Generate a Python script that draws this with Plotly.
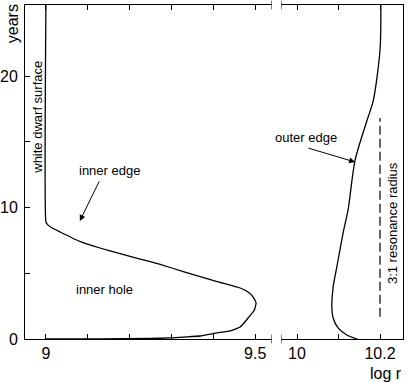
import plotly.graph_objects as go

# inner edge of the disc (left panel): log r against time in years
inner_logr = [9.0, 9.0, 9.004, 9.012, 9.034, 9.081, 9.129, 9.177, 9.225, 9.273, 9.328,
              9.409, 9.464, 9.483, 9.495, 9.502, 9.498, 9.483, 9.464, 9.440,
              9.409, 9.368, 9.328, 9.297, 9.249, 9.129, 9.0]
inner_years = [25.4, 8.90, 8.70, 8.50, 8.14, 7.42, 6.92, 6.50, 6.08, 5.67, 5.13,
               4.37, 3.88, 3.57, 3.19, 2.74, 2.21, 1.60, 0.91, 0.61,
               0.46, 0.23, 0.15, 0.08, 0.04, 0.01, 0.0]

# outer edge of the disc (right panel)
outer_logr = [10.202, 10.200, 10.184, 10.169, 10.140, 10.123, 10.111, 10.096,
              10.087, 10.084, 10.087, 10.099, 10.120, 10.145]
outer_years = [25.4, 21.98, 18.17, 16.65, 13.61, 9.81, 8.06, 5.48,
               3.95, 2.43, 1.60, 0.84, 0.30, 0.0]

# 3:1 resonance radius
res_logr = [10.2, 10.2]
res_years = [1.7, 16.8]

left_ticks = [9.0, 9.1, 9.2, 9.3, 9.4, 9.5]
left_labels = ["9", "", "", "", "", "9.5"]
right_ticks = [10.0, 10.1, 10.2]
right_labels = ["10", "", "10.2"]
year_ticks = [0, 5, 10, 15, 20]
year_labels = ["0", "", "10", "", "20"]

left_range = [8.95, 9.54]
right_range = [9.9614, 10.2554]

fig = go.Figure()

fig.add_trace(go.Scatter(x=inner_logr, y=inner_years, mode="lines",
                         line=dict(color="black", width=1.3, shape="spline", smoothing=0.4),
                         xaxis="x", yaxis="y"))
fig.add_trace(go.Scatter(x=outer_logr, y=outer_years, mode="lines",
                         line=dict(color="black", width=1.3, shape="spline", smoothing=0.8),
                         xaxis="x2", yaxis="y2"))
fig.add_trace(go.Scatter(x=res_logr, y=res_years, mode="lines",
                         line=dict(color="black", width=1.2, dash="9px,4px"),
                         xaxis="x2", yaxis="y2"))

axis_style = dict(showline=True, linecolor="black", linewidth=1, ticks="inside",
                  ticklen=5, tickcolor="black", showgrid=False, zeroline=False,
                  automargin=False)

fig.update_layout(
    width=409, height=383,
    margin=dict(l=25, r=6, t=5, b=44),
    plot_bgcolor="white", paper_bgcolor="white",
    showlegend=False,
    font=dict(family="Liberation Sans, Arial, sans-serif", size=16, color="black"),
    xaxis=dict(domain=[0, 0.6534], range=left_range, tickvals=left_ticks,
               ticktext=left_labels, mirror="ticks", anchor="y", **axis_style),
    xaxis2=dict(domain=[0.6772, 1], range=right_range, tickvals=right_ticks,
                ticktext=right_labels, mirror="ticks", anchor="y2", **axis_style),
    yaxis=dict(range=[0, 25.4], tickvals=year_ticks, ticktext=year_labels,
               anchor="x", ticklabelstandoff=3, **axis_style),
    yaxis2=dict(range=[0, 25.4], matches="y", anchor="x2", side="right",
                showline=True, linecolor="black", linewidth=1, ticks="",
                showticklabels=False, showgrid=False, zeroline=False, automargin=False),
)

# axis break marks
for xr, xv in [("x", left_range[1]), ("x2", right_range[0])]:
    for y0, y1 in [(-0.013, 0.013), (0.987, 1.013)]:
        fig.add_shape(type="line", xref=xr, yref="paper", x0=xv, x1=xv, y0=y0, y1=y1,
                      line=dict(color="black", width=1))

small = dict(size=13)
centred = dict(xanchor="center", yanchor="middle", showarrow=False)

fig.add_annotation(text="years", xref="paper", yref="paper", x=-0.034, y=0.943,
                   textangle=-90, font=dict(size=16), **centred)
fig.add_annotation(text="log r", xref="paper", yref="paper", x=0.955, y=-0.102,
                   font=dict(size=16), **centred)
fig.add_annotation(text="white dwarf surface", xref="x", yref="y", x=8.981, y=16.9,
                   textangle=-90, font=small, **centred)
fig.add_annotation(text="inner hole", xref="x", yref="y", x=9.139, y=3.73,
                   font=small, **centred)
fig.add_annotation(text="inner edge", xref="x", yref="y", x=9.151, y=12.78,
                   font=small, **centred)
fig.add_annotation(text="", xref="x", yref="y", x=9.081, y=8.97,
                   axref="x", ayref="y", ax=9.129, ay=12.1,
                   showarrow=True, arrowhead=2, arrowsize=1.2, arrowwidth=1, arrowcolor="black")
fig.add_annotation(text="outer edge", xref="x2", yref="y2", x=10.022, y=15.29,
                   font=small, **centred)
fig.add_annotation(text="", xref="x2", yref="y2", x=10.140, y=13.46,
                   axref="x2", ayref="y2", ax=10.024, ay=14.55,
                   showarrow=True, arrowhead=2, arrowsize=1.2, arrowwidth=1, arrowcolor="black")
fig.add_annotation(text="3:1 resonance radius", xref="x2", yref="y2", x=10.229, y=8.82,
                   textangle=-90, font=small, **centred)

# the page body has a default 8px margin; drop it so the figure sits at the corner
fig.write_html("out.html", config={"displayModeBar": False},
               post_script="document.body.style.margin='0';")
